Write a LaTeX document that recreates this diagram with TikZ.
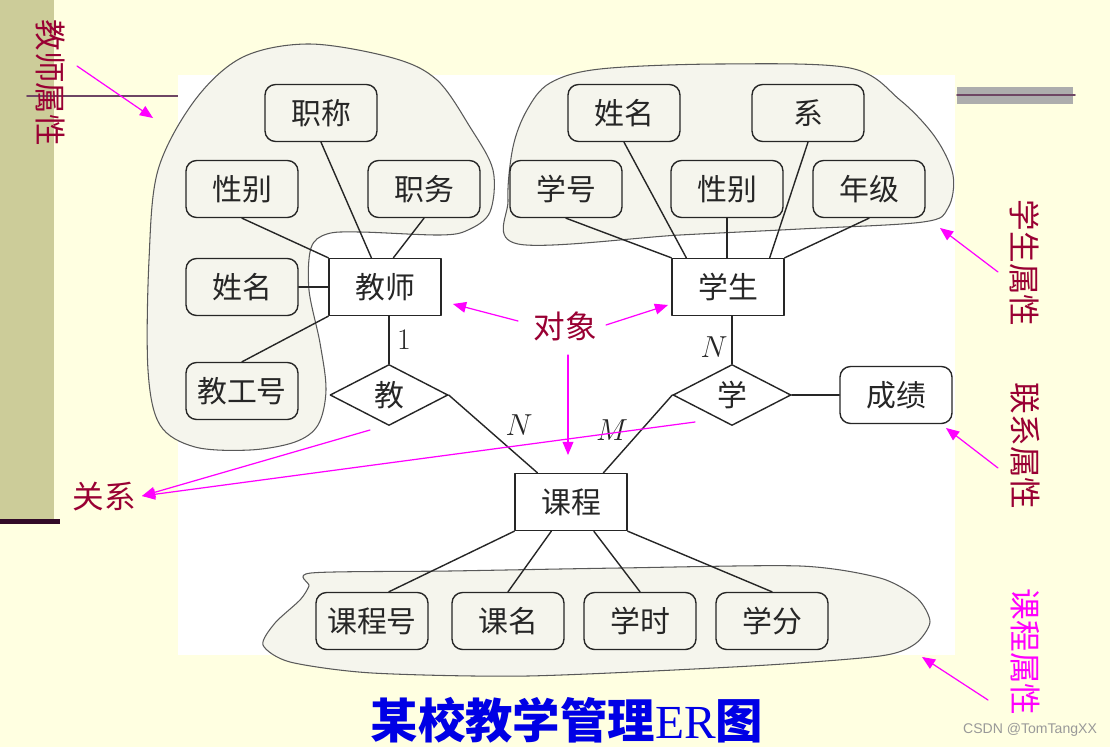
\documentclass[tikz,border=0pt]{standalone}
\usepackage{fontspec}
\newfontfamily\cjk{Noto Sans CJK SC}
\newfontfamily\erfont{Liberation Serif}
\newfontfamily\wmfont{Liberation Sans}
\usetikzlibrary{arrows}
\usetikzlibrary{shapes.geometric}
\definecolor{bgyellow}{RGB}{255,255,225}
\definecolor{barolive}{RGB}{204,204,153}
\definecolor{blobfill}{RGB}{245,245,237}
\definecolor{notered}{RGB}{153,0,51}
\definecolor{notepink}{RGB}{255,0,255}
\definecolor{barline}{RGB}{110,70,100}
\definecolor{bardark}{RGB}{50,10,40}

\begin{document}
\begin{tikzpicture}[line cap=round,line join=round,>=triangle 45,x=0.02cm,y=-0.02cm,
	attr/.style={draw=black!85,line width=0.8pt,rounded corners=6pt,fill=blobfill,minimum width=2.24cm,minimum height=1.14cm,inner sep=0pt,font=\cjk\fontsize{17}{17}\selectfont,text=black!85},
	ent/.style={draw=black!85,line width=0.8pt,fill=white,minimum width=2.24cm,minimum height=1.14cm,inner sep=0pt,font=\cjk\fontsize{17}{17}\selectfont,text=black!85},
	rel/.style={diamond,aspect=2,draw=black!85,line width=0.8pt,fill=white,minimum width=2.36cm,minimum height=1.22cm,inner sep=0pt,font=\cjk\fontsize{17}{17}\selectfont,text=black!85},
	link/.style={draw=black!85,line width=0.8pt},
	card/.style={font=\fontsize{17}{17}\selectfont,text=black!85},
	note/.style={font=\cjk\fontsize{18}{18}\selectfont,text=notered},
	pointer/.style={->,draw=notepink,line width=0.7pt},
	blob/.style={draw=black!65,line width=0.6pt,fill=blobfill}]
		\useasboundingbox (0,0) rectangle (1110,747);
		\fill[bgyellow] (0,0) rectangle (1110,747);
		% side bars
		\fill[barolive] (0,0) rectangle (54,520);
		\fill[bardark] (0,519) rectangle (60,524);
		\draw[barline,line width=1.1pt] (27,96) -- (178,96);
		\fill[black!32] (957,87) rectangle (1073,104);
		\draw[barline,line width=1pt] (957,95) -- (1075,95);
		\fill[white] (178,75) rectangle (955,655);
	
		% attribute groups
		\draw[blob] plot[smooth cycle,tension=0.55] coordinates {(195,100) (243,57) (310,44) (393,58) (437,80) (470,127) (493,170) (490,212) (468,230) (440,235) (360,232) (327,234) (311,248) (309,290) (320,343) (326,390) (318,425) (295,442) (250,450) (195,447) (160,425) (148,370) (149,260) (158,170)};
		\draw[blob] plot[smooth cycle,tension=0.55] coordinates {(550,83) (600,69) (720,64) (850,68) (900,100) (935,137) (953,175) (948,208) (923,222) (800,229) (680,235) (518,244) (508,200) (513,147) (527,110)};
		\draw[blob] plot[smooth cycle,tension=0.45] coordinates {(311,573) (450,571) (620,568) (800,566) (880,578) (917,598) (930,622) (915,644) (880,656) (751,666) (528,676) (372,673) (290,662) (263,645) (275,623) (300,600) (309,586)};
	
		% teacher
		\node[attr] (tzc) at (321,113) {职称};
		\node[attr] (txb) at (242,189) {性别};
		\node[attr] (tzw) at (424,189) {职务};
		\node[attr] (txm) at (242,287) {姓名};
		\node[attr] (tgh) at (242,391) {教工号};
		\node[ent] (teacher) at (385,287) {教师};
		\node[rel] (jiao) at (389,395) {教};
		% student
		\node[attr] (sxm) at (624,113) {姓名};
		\node[attr] (sx) at (808,113) {系};
		\node[attr] (sxh) at (566,189) {学号};
		\node[attr] (sxb) at (727,189) {性别};
		\node[attr] (snj) at (869,189) {年级};
		\node[ent] (student) at (728,287) {学生};
		\node[rel] (xue) at (732,395) {学};
		\node[attr,fill=white] (score) at (896,395) {成绩};
		% course
		\node[ent] (course) at (571,502) {课程};
		\node[attr] (ckh) at (372,621) {课程号};
		\node[attr] (ckm) at (508,621) {课名};
		\node[attr] (cxs) at (640,621) {学时};
		\node[attr] (cxf) at (772,621) {学分};
	
		\draw[link] (tzc.south) -- (teacher.115);
		\draw[link] (tzw.south) -- (teacher.74);
		\draw[link] (txb.south) -- (teacher.north west);
		\draw[link] (txm.east) -- (teacher.west);
		\draw[link] (tgh.north) -- (teacher.south west);
		\draw[link] (jiao.north) -- (jiao.north |- teacher.south);
		\draw[link] (jiao.east) -- (course.139);
		\draw[link] (sxm.south) -- (student.145);
		\draw[link] (sx.south) -- (student.35);
		\draw[link] (sxh.south) -- (student.north west);
		\draw[link] (sxb.south) -- (sxb.south |- student.north);
		\draw[link] (snj.south) -- (student.north east);
		\draw[link] (xue.north) -- (xue.north |- student.south);
		\draw[link] (xue.west) -- (course.42);
		\draw[link] (xue.east) -- (score.west);
		\draw[link] (course.south west) -- (ckh.60);
		\draw[link] (course.-124) -- (ckm.north);
		\draw[link] (course.-52) -- (cxs.north);
		\draw[link] (course.south east) -- (cxf.north);
	
		\node[card] (c1) at (404,340) {1};
		\node[card] (cn1) at (714,347) {$N$};
		\node[card] (cn2) at (519,425) {$N$};
		\node[card] (cm) at (612,430) {$M$};
	
		% notes
		\node[note,rotate=-90] (nteach) at (50,83) {教师属性};
		\node[note,rotate=-90] (nstud) at (1025,263) {学生属性};
		\node[note,rotate=-90] (nlink) at (1025,446) {联系属性};
		\node[note,rotate=-90,text=notepink] (ncour) at (1025,652) {课程属性};
		\node[note] (obj) at (565,326) {对象};
		\node[note] (relw) at (104,497) {关系};
		\coordinate (a1s) at (77,66);
		\coordinate (a1e) at (153,118);
		\coordinate (gx) at (142,496);
		\draw[pointer] (a1s) -- (a1e);
		\draw[pointer] (518,321) -- (453,304);
		\draw[pointer] (606,325) -- (668,305);
		\draw[pointer] (568,355) -- (568,455);
		\draw[pointer] (370,430) -- (gx);
		\draw[pointer] (695,422) -- (gx);
		\draw[pointer] (998,272) -- (940,228);
		\draw[pointer] (998,468) -- (946,428);
		\draw[pointer] (988,700) -- (922,657);
	
		\node[text=blue!90!black,font=\cjk\bfseries\fontsize{27}{27}\selectfont] (title) at (567,720) {某校教学管理{\erfont\mdseries ER}图};
		\node[text=black!40,font=\wmfont\fontsize{8}{8}\selectfont] (wm) at (1030,730) {CSDN @TomTangXX};
	\end{tikzpicture}
\end{document}
